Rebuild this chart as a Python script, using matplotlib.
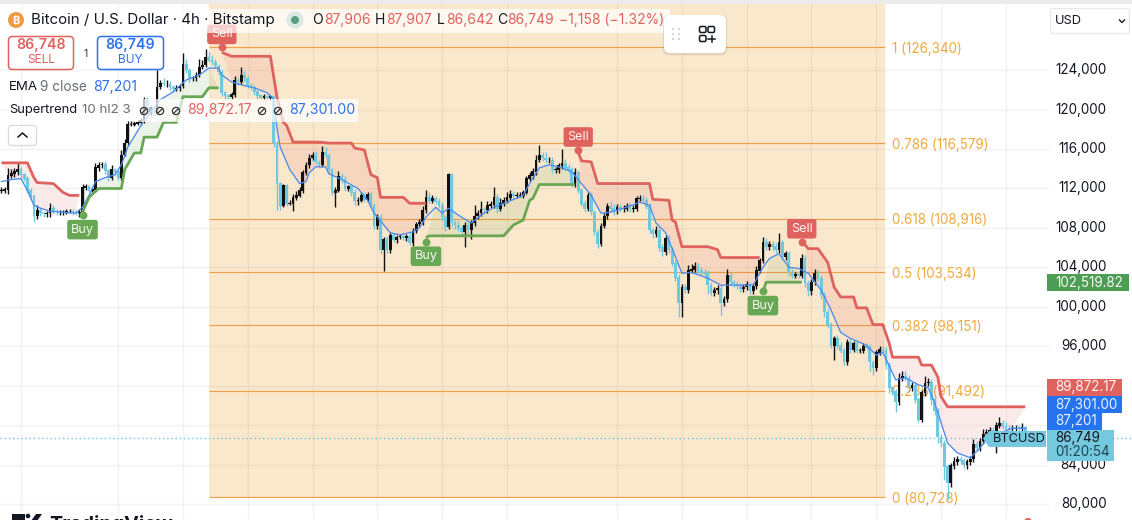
import numpy as np
import matplotlib
matplotlib.use('Agg')
import matplotlib.pyplot as plt
from matplotlib.patches import FancyBboxPatch, Rectangle, Circle, Polygon

plt.rcParams['font.family'] = ['Inter', 'DejaVu Sans']

# 4h closes in thousand USD, ten bars per row
closes = [
    111.8, 111.9, 113.3, 113.5, 113.7, 113.9, 113.4, 113.0, 111.8, 111.2,
    109.2, 109.8, 109.5, 109.4, 109.5, 110.0, 109.7, 109.6, 109.6, 109.6,
    109.7, 109.7, 109.6, 109.5, 109.6, 112.1, 112.2, 111.8, 111.9, 114.1,
    114.4, 114.5, 113.8, 113.1, 113.9, 113.7, 113.1, 115.4, 116.6, 118.5,
    118.5, 118.6, 118.7, 118.9, 121.0, 119.7, 120.2, 119.7, 122.3, 122.7,
    122.6, 122.6, 122.3, 122.1, 122.2, 122.4, 124.6, 124.0, 123.2, 123.2,
    123.5, 124.3, 124.5, 125.3, 125.0, 124.8, 124.4, 123.8, 121.7, 121.4,
    121.3, 121.5, 123.0, 122.8, 123.5, 123.2, 122.5, 122.3, 121.8, 121.4,
    121.2, 121.3, 121.2, 121.3, 116.6, 112.5, 110.3, 112.3, 110.5, 110.5,
    111.1, 111.3, 111.8, 113.6, 114.4, 115.1, 115.4, 114.7, 114.4, 115.7,
    115.4, 113.9, 111.6, 111.8, 113.2, 112.9, 112.0, 112.2, 111.6, 110.8,
    110.8, 111.3, 110.9, 111.4, 110.3, 108.2, 109.1, 105.8, 106.8, 105.8,
    107.3, 106.8, 107.1, 107.2, 107.0, 107.2, 106.5, 107.7, 108.4, 108.6,
    109.8, 111.1, 110.8, 111.0, 110.7, 110.3, 109.1, 108.1, 113.4, 108.6,
    108.3, 108.0, 107.6, 108.3, 107.8, 108.5, 109.2, 109.5, 109.9, 109.8,
    110.3, 110.4, 111.1, 110.0, 110.5, 110.8, 111.1, 111.4, 111.3, 111.3,
    111.3, 111.6, 113.0, 113.3, 113.7, 114.9, 115.4, 115.1, 114.9, 114.9,
    113.9, 113.9, 114.3, 114.6, 114.1, 113.9, 112.5, 113.6, 111.8, 110.5,
    110.0, 111.3, 109.6, 107.6, 106.4, 108.2, 109.2, 110.2, 110.0, 109.7,
    110.1, 109.9, 110.0, 110.2, 109.9, 110.0, 111.0, 111.0, 110.8, 110.2,
    107.8, 107.4, 107.8, 106.0, 105.6, 107.0, 105.8, 104.4, 103.0, 100.4,
    102.0, 101.7, 103.7, 103.8, 104.1, 103.7, 103.5, 103.4, 102.2, 101.4,
    101.7, 101.9, 100.4, 100.8, 103.2, 102.5, 102.3, 102.1, 101.8, 102.0,
    102.3, 101.6, 102.1, 103.7, 104.7, 106.5, 106.1, 106.3, 106.1, 105.8,
    106.5, 105.1, 105.4, 103.5, 103.2, 103.3, 103.2, 104.9, 102.4, 101.6,
    102.5, 103.4, 102.9, 101.2, 99.5, 98.2, 96.1, 96.8, 96.1, 95.6,
    94.4, 96.4, 95.7, 96.3, 95.6, 95.6, 96.0, 95.9, 94.4, 93.8,
    95.4, 95.7, 95.6, 94.1, 91.8, 91.4, 90.4, 92.8, 93.0, 92.8,
    91.8, 92.1, 90.6, 88.6, 91.3, 92.3, 92.4, 90.6, 89.5, 86.8,
    86.2, 83.8, 82.2, 83.9, 84.3, 84.6, 84.4, 84.0, 84.3, 84.6,
    86.1, 85.7, 86.4, 87.1, 87.3, 87.5, 87.2, 88.0, 88.2, 87.9,
    87.7, 87.6, 87.7, 87.7, 87.6, 87.8, 86.7,
]
upper_wicks = [
    .3, .3, .8, .5, .4, .7, .3, .2, .3, .2,
    .2, .5, .3, .2, .2, .5, .3, .2, .2, .2,
    .2, .2, .2, .2, .3, .4, .3, .2, .3, .5,
    .3, .2, .3, .2, .5, .2, .2, .5, .4, .3,
    .3, .2, .2, .2, .3, .3, .2, .3, 1.7, .3,
    .5, .4, .3, .2, .3, .2, 1.1, .5, .2, .2,
    .3, .8, .5, .8, .5, .5, .3, .2, .2, .2,
    .2, .3, .4, .2, .8, .4, .2, .2, .2, .2,
    .2, .3, .2, .2, .2, .2, .2, .2, .2, .3,
    .3, .4, .3, .3, .3, .4, .3, .4, .2, .6,
    .5, .2, .2, .3, .6, .4, .4, .2, .2, .3,
    .3, .3, .3, .2, .3, .2, .3, .3, .3, .4,
    .3, .2, .2, .2, .2, .2, .3, .3, .2, .3,
    .4, .7, .5, .3, .2, .3, .3, .2, .2, .2,
    .2, .4, .3, .3, .3, .3, 1.1, .3, .8, .2,
    .4, .3, 1.0, .3, .5, .3, .5, .4, .3, .3,
    .3, .2, .3, .4, .4, .5, 1.0, .3, .6, .3,
    .3, .3, .3, 1.4, .4, .4, .3, .5, .3, .2,
    .3, .3, .3, .2, .3, .3, .3, .3, .5, .4,
    .3, .3, .3, .3, .3, .3, .2, .3, .3, .3,
    .3, .2, .4, .3, .4, .3, .3, .3, .3, .3,
    .3, .3, .5, .5, .4, .3, .3, .3, .3, .3,
    .3, .3, .3, .3, .6, .3, .2, .3, .3, .3,
    .3, .2, .3, .4, .3, .6, .5, .4, .4, .4,
    1.0, .3, .3, .3, .3, .2, .3, .5, .4, .3,
    .3, .4, .3, .3, .3, .3, .3, .2, .3, .3,
    .2, .3, .3, .2, .2, .2, .3, .3, .3, .2,
    .2, .3, .3, .3, .3, .2, .3, .5, .5, .5,
    .3, .3, .3, .3, .3, .7, .4, .3, .3, .2,
    .3, .3, .3, .3, .5, .3, .3, .3, .3, .3,
    .5, .3, .3, .5, .3, .3, .3, .3, .6, .3,
    .4, .3, .3, .3, .3, .4, .1,
]
lower_wicks = [
    .3, .3, .5, .2, .3, .3, .3, .2, .3, .3,
    .6, .3, .3, .3, .3, .4, .3, .3, .3, .3,
    .2, .2, .3, .2, .4, .2, .3, .2, .2, .2,
    .3, .3, .3, .3, .2, .3, .2, .2, .1, .2,
    .2, .2, .2, .3, .3, .3, .3, .3, .2, .2,
    .2, .3, .3, .3, .2, .3, .2, .3, .4, .3,
    .3, .2, .2, .2, .2, .3, .2, .3, .3, .3,
    .2, .2, .2, .3, .2, .3, .3, .3, .3, .3,
    .2, .2, .2, .2, .4, 2.7, .5, .2, .3, .2,
    .8, .3, .2, .3, .2, .3, .2, .2, .3, .2,
    .3, .4, .3, 1.5, .2, .3, .3, .3, .4, .5,
    .5, .2, .3, .3, .3, .3, .3, .4, 2.2, .3,
    .3, .2, .3, .2, .2, .3, .2, .3, .2, .2,
    .3, .3, .3, .3, .3, .3, .3, .4, .2, .4,
    .4, .3, .4, 1.5, .4, .9, .3, .3, .3, .3,
    .3, .3, .4, .5, .3, .3, .3, .3, .3, .3,
    .2, .3, .2, .2, .3, .3, .2, .3, .3, .3,
    .3, .3, .3, .3, .3, .3, .3, .3, .3, .3,
    .4, .3, .3, .3, .4, .2, .2, .3, .3, .4,
    .3, .3, .3, .3, .3, .3, .3, .3, .3, .3,
    .3, .4, .3, .3, .4, .3, .3, .3, .4, 1.4,
    1.4, .3, .3, .3, .3, .3, .3, .5, .9, .3,
    .3, .4, 1.2, .3, .3, .3, .3, .3, .3, .3,
    .3, .3, .3, .3, .3, .3, .3, .3, .3, .3,
    .3, .3, .3, .4, .3, .3, .3, .3, .4, .5,
    .4, .3, .3, .4, .5, .3, .3, 1.5, .4, .3,
    .3, .3, .4, .3, .3, .3, .3, .3, .9, .7,
    .3, .3, .3, .4, .5, .3, 1.1, .3, .3, .3,
    .4, .3, .3, .3, .3, .3, .3, .5, .5, .6,
    .4, 1.3, 1.8, .5, .3, .3, .3, .3, .4, .3,
    .3, .3, .3, .3, .3, .3, .3, 2.0, .3, .3,
    .3, .3, .3, .3, .3, .3, .1,
]

ema_bars = [0, 3, 6, 8, 10, 12, 15, 18, 23, 25, 27, 29, 32, 35, 37, 39, 44, 49, 53, 57, 61, 64, 67, 68, 71, 74, 78, 82, 84, 85,
            86, 89, 92, 94, 95, 97, 100, 101, 105, 110, 113, 115, 118, 120, 123, 127, 129, 131, 134, 136, 138, 141, 145, 148, 152, 156, 161, 163, 166, 169,
            173, 176, 179, 182, 185, 188, 192, 197, 200, 202, 205, 207, 210, 213, 218, 222, 226, 232, 235, 237, 240, 243, 246, 249, 253, 256, 259, 262, 267, 270,
            272, 276, 279, 283, 286, 288, 292, 295, 299, 302, 304, 308, 312, 316]
ema_values = [112.7, 112.9, 113.0, 111.8, 110.3, 110.0, 109.7, 109.6, 109.5, 110.1, 111.3, 112.7, 113.1, 113.4, 114.4, 116.2, 118.9, 121.0, 121.8, 123.0, 123.5, 124.2, 124.2, 123.5, 122.8, 122.5, 122.2, 121.7, 121.0, 118.2,
              116.2, 113.9, 112.5, 112.7, 113.6, 114.2, 114.2, 113.5, 112.9, 112.0, 110.8, 109.5, 108.3, 107.5, 107.3, 107.6, 108.0, 109.1, 110.1, 109.5, 110.0, 109.3, 108.5, 109.3, 110.1, 110.6, 111.3, 112.5, 114.1, 114.4,
              114.1, 113.7, 112.5, 111.3, 109.5, 109.6, 110.0, 110.6, 110.3, 108.5, 107.5, 105.9, 103.4, 103.5, 102.9, 102.2, 102.2, 102.2, 104.0, 104.9, 105.4, 104.0, 103.9, 103.4, 101.7, 99.7, 97.4, 96.8, 96.1, 95.1,
              95.4, 92.6, 92.8, 92.1, 91.8, 90.3, 86.2, 85.2, 84.7, 85.7, 86.5, 87.2, 87.7, 87.7]

# supertrend legs: red while price is under it, green while over it
st_red_bars = [
    [0, 8, 10, 11, 16, 19, 21, 24],
    [68, 71, 83, 85, 87, 88, 90, 98, 101, 108, 109, 112, 114, 116, 117, 124, 126, 131],
    [178, 179, 182, 184, 200, 201, 206, 207, 208, 210, 218, 219, 221, 222, 234],
    [248, 249, 252, 255, 257, 259, 263, 264, 267, 269, 272, 274, 275, 283, 284, 287, 289, 290, 292, 316],
]
st_red_values = [
    [114.6, 114.6, 113.1, 112.6, 112.5, 111.6, 111.3, 111.3],
    [125.8, 125.4, 125.4, 121.3, 118.7, 118.4, 116.7, 116.7, 116.6, 116.6, 116.1, 115.9, 113.4, 113.1, 111.1, 111.1, 110.5, 110.5],
    [115.7, 114.8, 114.7, 112.5, 112.5, 110.9, 110.8, 108.8, 108.6, 106.1, 106.1, 106.0, 105.8, 105.0, 105.0],
    [106.3, 105.9, 105.9, 104.5, 102.0, 101.0, 101.0, 99.9, 99.9, 98.2, 98.2, 96.3, 94.9, 94.9, 94.1, 94.1, 92.9, 90.9, 89.87, 89.87],
]
st_green_bars = [
    [25, 27, 30, 37, 38, 41, 43, 44, 48, 50, 54, 56, 62, 64, 67],
    [131, 132, 155, 158, 161, 163, 164, 166, 177],
    [235, 236, 247],
]
st_green_values = [
    [109.6, 111.1, 112.0, 112.0, 113.9, 115.6, 115.6, 117.2, 117.2, 118.7, 118.7, 121.3, 121.3, 122.2, 122.2],
    [107.0, 107.2, 107.2, 108.3, 108.8, 110.8, 111.0, 112.4, 112.4],
    [101.5, 102.5, 102.5],
]

fib_ratios = ['1', '0.786', '0.618', '0.5', '0.382', '0.236', '0']
fib_prices = [126340, 116579, 108916, 103534, 98151, 91492, 80728]
# 92,000 and 88,000 only have gridlines, their labels sit behind the price tags
grid_prices = [124000, 120000, 116000, 112000, 108000, 104000, 100000, 96000, 92000, 88000, 84000, 80000]
price_labels = [124000, 120000, 116000, 112000, 108000, 104000, 100000, 96000, 84000, 80000]
grid_bars = [6, 36, 56, 76, 96, 116, 136, 156, 190, 210, 230, 250, 270, 290, 310]

sell_bars = [68, 178, 247]
sell_prices = [126.3, 115.9, 106.6]
buy_bars = [25, 131, 235]
buy_prices = [109.3, 106.6, 101.6]

W, H = 1132, 520
UP = '#111111'
DOWN = '#70C8DF'
RED = '#E0625E'
GREEN = '#68A754'
BLUE = '#2F72F0'
ORANGE = '#EE9F4A'
FIBTXT = '#F0A93F'
TAN = '#FAE8CD'

fig = plt.figure(figsize=(W / 100, H / 100), dpi=100, facecolor='white')
ax = fig.add_axes([0, 0, 1, 1])
# 3.24 px per bar, 101.36 USD per px
ax.set_xlim(-1.5 / 3.24, (W - 1.5) / 3.24)
ax.set_ylim(126340 - (H - 47) * 101.36, 126340 + 47 * 101.36)
ax.axis('off')

c = np.array(closes) * 1000
o = np.r_[c[0], c[:-1]]
hi = np.maximum(o, c) + np.array(upper_wicks) * 1000
lo = np.minimum(o, c) - np.array(lower_wicks) * 1000
bars = np.arange(len(c))
up = c >= o

# fib block and levels
fib_left, fib_right = 64.04, 272.7
ax.add_patch(Rectangle((fib_left, fib_prices[-1]), fib_right - fib_left, 60000, color=TAN, lw=0, zorder=1))
ax.vlines(grid_bars, 78000, 135000, color='#333333', alpha=0.06, lw=1, zorder=1.5)
ax.hlines(grid_prices, -5, (1049 - 1.5) / 3.24, color='#333333', alpha=0.06, lw=1, zorder=1.5)
ax.hlines(fib_prices, fib_left, fib_right, color=ORANGE, lw=0.85, zorder=2)
for r, p in zip(fib_ratios, fib_prices):
    ax.annotate(f'{r} ({p:,})', (274.8, p), xytext=(0, -1.5), textcoords='offset pixels',
                color=FIBTXT, fontsize=9.7, va='center', ha='left', zorder=2)
for t in price_labels:
    ax.annotate(f'{t:,}', (1105 / 3.24, t), xytext=(0, 0), textcoords='offset pixels',
                ha='right', va='center', fontsize=9.7, color='#131722', zorder=3)

ema_bars = np.array(ema_bars)
ema_values = np.array(ema_values) * 1000


def st_leg(leg_bars, leg_values, color):
    leg_values = np.array(leg_values) * 1000
    keep = (ema_bars > leg_bars[0]) & (ema_bars < leg_bars[-1])
    ax.fill(np.r_[leg_bars, ema_bars[keep][::-1]], np.r_[leg_values, ema_values[keep][::-1]],
            color=color, alpha=0.13, lw=0, zorder=3)
    ax.plot(leg_bars, leg_values, color=color, lw=2, zorder=5, solid_capstyle='butt')


for b, v in zip(st_red_bars, st_red_values):
    st_leg(b, v, RED)
for b, v in zip(st_green_bars, st_green_values):
    st_leg(b, v, GREEN)

# candles
ax.vlines(bars[up], lo[up], hi[up], color=UP, lw=1, zorder=4)
ax.vlines(bars[~up], lo[~up], hi[~up], color=DOWN, lw=1, zorder=4)
ax.bar(bars[up], (c - o)[up] + 60, bottom=o[up] - 30, width=0.85, color=UP, lw=0, zorder=4.2)
ax.bar(bars[~up], (o - c)[~up] + 60, bottom=c[~up] - 30, width=0.85, color=DOWN, lw=0, zorder=4.1)
ax.plot(ema_bars, ema_values, color='#4C8BF0', lw=0.95, zorder=4.6)

# last price dotted
ax.axhline(86749, color='#6CC7DC', lw=1, ls=(0, (1, 2)), zorder=2.5)

# sell / buy flags
for b, p in zip(sell_bars, sell_prices):
    ax.scatter([b], [p * 1000], s=32, color=RED, lw=0, zorder=6)
    ax.annotate('Sell', (b, p * 1000), xytext=(0, 13), textcoords='offset pixels', ha='center', va='center',
                color='#FFF4F2', fontsize=9.1, zorder=7,
                bbox=dict(boxstyle='round,pad=0.3,rounding_size=0.2', fc=RED, ec='none'))
for b, p in zip(buy_bars, buy_prices):
    ax.scatter([b], [p * 1000], s=32, color=GREEN, lw=0, zorder=6)
    ax.annotate('Buy', (b, p * 1000), xytext=(0, -14.5), textcoords='offset pixels', ha='center', va='center',
                color='#F2F8EE', fontsize=9.1, zorder=7,
                bbox=dict(boxstyle='round,pad=0.3,rounding_size=0.2', fc=GREEN, ec='none'))

# interface parts on top, in pixel coordinates
ui = fig.add_axes([0, 0, 1, 1], facecolor='none', zorder=10)
ui.set_xlim(0, W)
ui.set_ylim(H, 0)
ui.axis('off')


def txt(x, y, s, color='#131722', size=9.4, **kw):
    kw.setdefault('va', 'center')
    kw.setdefault('ha', 'left')
    return ui.text(x, y, s, color=color, fontsize=size, **kw)


def box(x0, y0, x1, y1, fc='white', ec='none', lw=1.0, r=3, alpha=None, z=1, **kw):
    p = FancyBboxPatch((x0, y0), x1 - x0, y1 - y0, boxstyle=f'round,pad=0,rounding_size={r}',
                       fc=fc, ec=ec, lw=lw, alpha=alpha, zorder=z, **kw)
    ui.add_patch(p)
    return p


ui.add_patch(Rectangle((0, 0), W, 3.5, fc='#EBEBEB', lw=0))

# header
ui.add_patch(Rectangle((0, 9), 670, 24, fc='white', alpha=0.7, lw=0))
ui.add_patch(Circle((16, 20), 8, fc='#F09A3E', lw=0, zorder=2))
txt(16, 20, '\u20bf', color='white', size=8, ha='center', weight='bold', zorder=3)
txt(31, 20, 'Bitcoin / U.S. Dollar · 4h · Bitstamp', size=10.9, zorder=3)
ui.add_patch(Circle((295, 20), 8.5, fc='#DCE9E2', lw=0, zorder=2))
ui.add_patch(Circle((295, 20), 4, fc='#5B9C85', lw=0, zorder=3))
for x, s, col in [(312, 'O', '#131722'), (324, '87,906', RED), (375, 'H', '#131722'), (386, '87,907', RED),
                  (437, 'L', '#131722'), (446, '86,642', RED), (497, 'C', '#131722'), (507, '86,749', RED),
                  (559, '\u22121,158 (\u22121.32%)', RED)]:
    txt(x, 20, s, color=col, size=10, zorder=3)

# sell / buy quote boxes
box(8.5, 36.5, 73.5, 69.5, ec=RED, lw=1.1, r=4)
txt(41, 45, '86,748', color=RED, size=10.2, ha='center', weight='semibold', zorder=3)
txt(41, 60, 'SELL', color=RED, size=8.6, ha='center', zorder=3)
txt(86, 54, '1', color='#333333', size=7.5, ha='center', zorder=3)
box(97.5, 36.5, 163.5, 69.5, ec=BLUE, lw=1.1, r=4)
txt(130.5, 45, '86,749', color=BLUE, size=10.2, ha='center', weight='semibold', zorder=3)
txt(130.5, 60, 'BUY', color=BLUE, size=8.6, ha='center', zorder=3)

# indicator legend
txt(9, 87, 'EMA', size=9.6)
txt(40, 87, '9 close', color='#6A6D78', size=9.8)
txt(93, 87, '87,201', color=BLUE, size=10.2)
ui.add_patch(Rectangle((134, 99), 224, 23, fc='white', alpha=0.7, lw=0))
txt(9, 110, 'Supertrend', size=9.3, zorder=3)
txt(82, 110, '10 hl2 3', color='#6A6D78', size=9.6, zorder=3)
txt(187, 110, '89,872.17', color=RED, size=10.2, zorder=3)
txt(289, 110, '87,301.00', color=BLUE, size=10.2, zorder=3)
for x in [144, 160, 176, 262, 278]:
    ui.add_patch(Circle((x, 111), 3.6, fc='none', ec='#333333', lw=0.9, zorder=3))
    ui.plot([x - 2.5, x + 2.5], [113.5, 108.5], color='#333333', lw=0.9, zorder=3)
box(8.5, 125.5, 36.5, 145.5, ec='#DADADA', lw=0.9, r=3)
ui.plot([18, 22.5, 27], [137, 133, 137], color='#131722', lw=1.1)

# floating toolbar
for off, a in [(2.5, 0.05), (1.5, 0.06)]:
    box(664 - off / 2, 15, 726 + off / 2, 53 + off, fc='black', alpha=a, r=6, z=6)
box(664, 15, 726, 53, r=6, z=7)
for dx in (673, 679):
    for dy in (29, 34, 39):
        ui.add_patch(Circle((dx, dy), 1, fc='#C8C8CC', lw=0, zorder=8))
for x0, y0 in [(699.5, 26.5), (708, 26.5), (699.5, 35.5)]:
    box(x0, y0, x0 + 6.5, y0 + 6, fc='none', ec='#131722', lw=1.1, r=1.5, z=8)
ui.plot([708, 715], [39, 39], color='#131722', lw=1.1, zorder=8)
ui.plot([711.5, 711.5], [35.5, 42], color='#131722', lw=1.1, zorder=8)

# currency dropdown
box(1050.5, 8.5, 1129.5, 33.5, ec='#E8E8E8', lw=0.9, r=3)
txt(1055, 21, 'USD', size=9.2)
ui.plot([1119.5, 1122, 1124.5], [20, 22.5, 20], color='#131722', lw=1)

# price tags on the right
tag_font = dict(size=9.7, zorder=5)
ui.add_patch(Rectangle((1047, 274), 82, 17, fc='#4E9D55', lw=0))
txt(1055, 282.5, '102,519.82', color='#F3FAF3', **tag_font)
ui.add_patch(Rectangle((1047, 379), 75, 17, fc=RED, lw=0))
txt(1055, 387.5, '89,872.17', color='#FFF3F1', **tag_font)
ui.add_patch(Rectangle((1047, 396), 75, 17, fc='#2673F2', lw=0))
txt(1055, 404.5, '87,301.00', color='#EAF2FF', **tag_font)
ui.add_patch(Rectangle((1047, 413), 55, 17, fc='#2673F2', lw=0))
txt(1055, 421.5, '87,201', color='#EAF2FF', **tag_font)
ui.add_patch(Rectangle((1047, 430), 67, 31, fc='#74C9DE', lw=0, zorder=3))
txt(1055, 438, '86,749', color='#131722', **tag_font)
txt(1055, 451.5, '01:20:54', color='#1F4650', **tag_font)
ui.add_patch(Polygon([(983, 438.5), (989, 431), (1046, 431), (1046, 447), (989, 447)], fc='#74C9DE', lw=0, zorder=3))
txt(993, 439, 'BTCUSD', color='#131722', size=9.2, zorder=5)

# TradingView footer, cut off by the page edge
ui.add_patch(Rectangle((12, 514), 13, 7, fc='#131722', lw=0))
ui.add_patch(Circle((28, 516), 2.3, fc='#131722', lw=0))
ui.add_patch(Polygon([(31, 521), (36, 514), (42, 514), (37, 521)], fc='#131722', lw=0))
txt(49, 525, 'TradingView', size=14.2, weight='bold', va='center')
ui.add_patch(Circle((1028, 522), 4, fc=RED, lw=0))

fig.savefig('out.png', dpi=100)
